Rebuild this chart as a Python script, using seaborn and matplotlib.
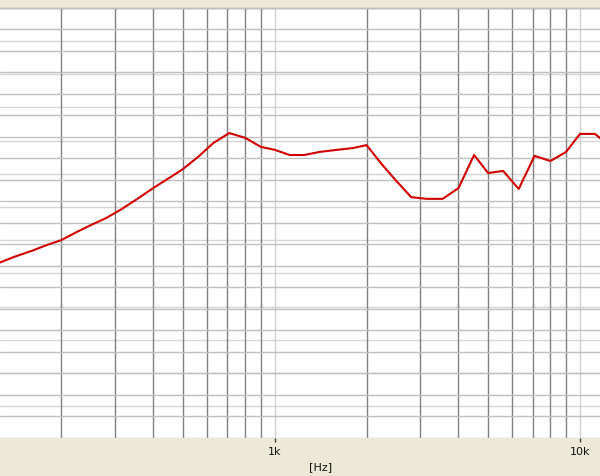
# Frequency response plot, old Windows style
import numpy as np
import pandas as pd
import matplotlib
matplotlib.use("Agg")
import matplotlib.pyplot as plt
from matplotlib.ticker import FixedLocator, FixedFormatter, MultipleLocator, NullFormatter
import seaborn as sns

# 1/6 octave measuring points
freq_hz = [125, 140, 160, 180, 200, 225, 250, 280, 315, 355, 400, 450, 500, 560,
           630, 710, 800, 900, 1000, 1120, 1250, 1400, 1600, 1800, 2000, 2240,
           2500, 2800, 3150, 3550, 4000, 4500, 5000, 5600, 6300, 7100, 8000,
           9000, 10000, 11200, 12500]
level_db = [60.6, 62.0, 63.4, 64.8, 65.9, 67.8, 69.4, 71.0, 73.1, 75.5, 78.0, 80.3,
            82.4, 85.2, 88.5, 90.8, 89.7, 87.6, 86.9, 85.7, 85.7, 86.4, 86.9, 87.3,
            88.0, 83.6, 79.7, 75.9, 75.5, 75.5, 78.0, 85.7, 81.5, 82.0, 77.8, 85.5,
            84.3, 86.4, 90.6, 90.6, 87.8]

major_ticks = [1000, 10000]
major_labels = ["1k", "10k"]
minor_ticks = [200, 300, 400, 500, 600, 700, 800, 900,
               2000, 3000, 4000, 5000, 6000, 7000, 8000, 9000]

df = pd.DataFrame({"freq": freq_hz, "level": level_db})

sns.set_style("white")
plt.rcParams["font.family"] = ["DejaVu Sans"]

fig = plt.figure(figsize=(6, 4.76), dpi=100, facecolor="#ECE9D8")
ax = fig.add_axes([0, 38.5 / 476, 1, 430 / 476])

# second grid (other scale) behind
ax2 = ax.twinx()
ax2.set_ylim(-19.43, 110.1)
ax2.yaxis.set_major_locator(MultipleLocator(10))
ax2.grid(True, axis="y", color="#d6d6d6", linewidth=1)
ax2.set_yticklabels([])
ax2.tick_params(axis="y", length=0)
ax2.patch.set_visible(True)
ax2.patch.set_facecolor("white")
for s in ax2.spines.values():
    s.set_visible(False)

ax.set_zorder(ax2.get_zorder() + 1)
ax.patch.set_visible(False)

sns.lineplot(data=df, x="freq", y="level", ax=ax, color="#d00000", linewidth=1.5)

ax.set_xscale("log")
ax.set_xlim(126.0, 11630)
ax.set_ylim(20, 120)

ax.xaxis.set_major_locator(FixedLocator(major_ticks))
ax.xaxis.set_major_formatter(FixedFormatter(major_labels))
ax.xaxis.set_minor_locator(FixedLocator(minor_ticks))
ax.xaxis.set_minor_formatter(NullFormatter())
ax.yaxis.set_major_locator(MultipleLocator(5))
ax.set_yticklabels([])

ax.grid(True, axis="y", which="major", color="#c0c0c0", linewidth=1)
ax.grid(True, axis="x", which="major", color="#d0d0d0", linewidth=1)
ax.grid(True, axis="x", which="minor", color="#808080", linewidth=1)

ax.tick_params(axis="x", which="major", direction="out", length=3, width=1,
               color="#404040", labelsize=8, labelcolor="#101010", pad=3.5, bottom=True)
ax.tick_params(axis="x", which="minor", length=0)
ax.tick_params(axis="y", length=0)

for name, s in ax.spines.items():
    s.set_visible(False)
ax2.spines["top"].set_visible(True)
ax2.spines["top"].set_color("#a0a0a0")
ax2.spines["top"].set_linewidth(1)

ax.set_ylabel("")
ax.set_xlabel("[Hz]", fontsize=8, color="#101010")
ax.xaxis.set_label_coords(320.7 / 600, -0.058)

fig.savefig("out.png", dpi=100, facecolor=fig.get_facecolor())
